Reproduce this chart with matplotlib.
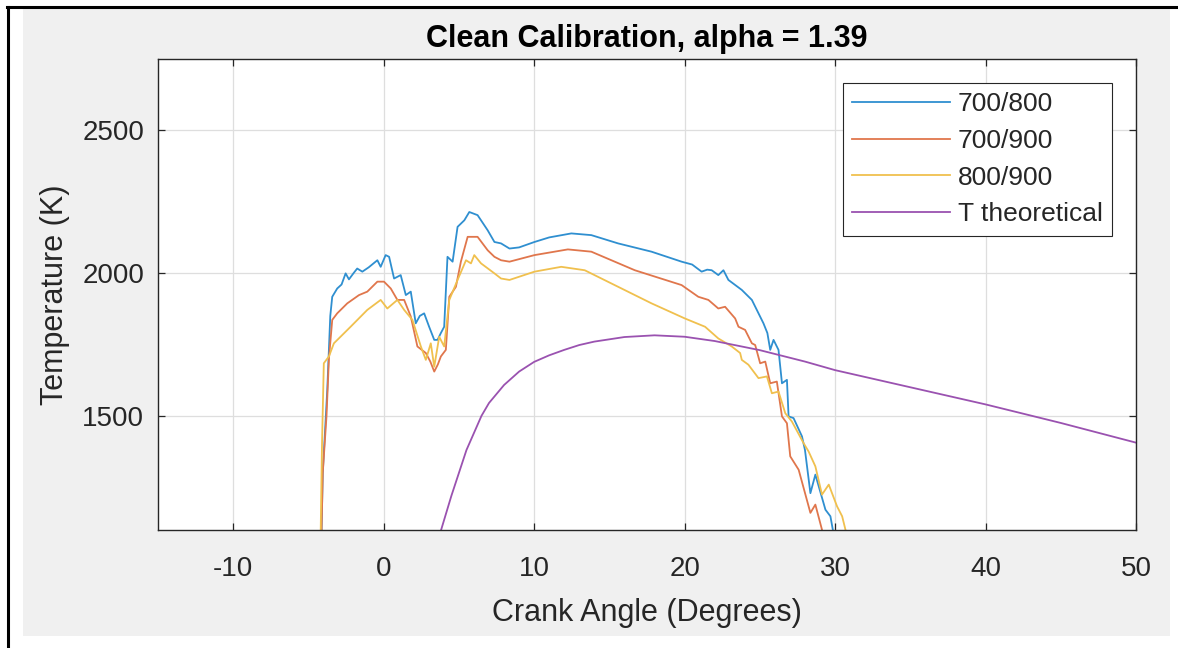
import numpy as np
import matplotlib
matplotlib.use('Agg')
import matplotlib.pyplot as plt
from matplotlib.patches import Rectangle
from matplotlib.lines import Line2D

plt.rcParams['font.family'] = ['Liberation Sans', 'DejaVu Sans']
plt.rcParams['axes.unicode_minus'] = False

# Readings taken off the calibration plot (crank angle in degrees, temperature in K)
angle_700_800 = [-4.15, -4.05, -3.75, -3.55, -3.42, -3.09, -2.8, -2.53, -2.31, -2.0, -1.76, -1.42, -1.0,
                 -0.42, -0.2, 0.13, 0.36, 0.69, 1.13, 1.47, 1.8, 2.13, 2.4, 2.69, 3.02, 3.36, 3.58, 3.8,
                 4.02, 4.24, 4.58, 4.91, 5.36, 5.69, 6.24, 6.91, 7.36, 7.8, 8.36, 9.0, 10.02, 11.0, 12.47,
                 13.8, 15.58, 17.8, 19.8, 20.5, 21.13, 21.5, 21.8, 22.24, 22.58, 22.91, 23.8, 24.47, 25.24,
                 25.5, 25.69, 25.91, 26.24, 26.47, 26.8, 26.91, 27.24, 27.8, 28.0, 28.36, 28.69, 29.36,
                 29.69, 29.85, 29.95]
temp_700_800 = [1050, 1300, 1591, 1850, 1917, 1946, 1960, 1999, 1978, 2000, 2016, 2005, 2020,
                2045, 2022, 2063, 2057, 1981, 1993, 1923, 1935, 1824, 1850, 1859, 1812, 1766, 1766, 1790,
                1812, 2057, 2040, 2162, 2185, 2214, 2203, 2150, 2109, 2104, 2086, 2090, 2109, 2125, 2139,
                2133, 2104, 2075, 2040, 2030, 2005, 2012, 2010, 1993, 2010, 1976, 1941, 1906, 1824,
                1790, 1731, 1766, 1731, 1614, 1626, 1498, 1492, 1428, 1380, 1229, 1294, 1171,
                1148, 1101, 1050]

angle_700_900 = [-4.15, -4.05, -3.8, -3.64, -3.42, -3.09, -2.42, -1.64, -1.09, -0.42, 0.02, 0.47, 0.91,
                 1.36, 1.8, 2.24, 2.8, 3.1, 3.36, 3.6, 3.8, 4.13, 4.36, 4.8, 5.13, 5.58, 6.24, 6.91, 7.36,
                 7.8, 8.36, 10.02, 12.24, 13.8, 16.69, 19.8, 20.91, 21.58, 22.24, 22.69, 23.36, 23.58,
                 24.02, 24.47, 24.69, 25.02, 25.36, 25.69, 26.13, 26.47, 26.8, 27.02, 27.58, 28.36, 28.69,
                 29.13, 29.25]
temp_700_900 = [1050, 1300, 1500, 1700, 1836, 1859, 1894, 1923, 1935, 1970, 1970, 1946, 1906,
                1906, 1848, 1743, 1720, 1690, 1655, 1680, 1708, 1731, 1917, 1952, 2040, 2127, 2127, 2080, 2057,
                2045, 2040, 2063, 2083, 2075, 2010, 1958, 1917, 1906, 1876, 1882, 1841, 1812,
                1801, 1754, 1748, 1684, 1690, 1614, 1620, 1498, 1474, 1358, 1311, 1160, 1189,
                1101, 1050]

angle_800_900 = [-4.2, -4.1, -3.98, -3.64, -3.31, -2.2, -1.09, -0.2, 0.24, 0.91, 1.36, 1.91, 2.47, 2.8,
                 3.13, 3.36, 3.69, 4.02, 4.36, 4.91, 5.47, 5.8, 6.02, 6.47, 7.36, 7.8, 8.36, 10.02, 11.8,
                 13.36, 15.58, 17.8, 20.02, 21.36, 22.24, 23.13, 23.69, 23.8, 24.24, 24.91, 25.47, 25.8,
                 26.24, 26.69, 27.13, 27.91, 28.24, 28.69, 29.13, 29.58, 30.13, 30.47, 30.69, 30.8]
temp_800_900 = [1050, 1400, 1684, 1708, 1754, 1812, 1871, 1906, 1876, 1906, 1871, 1836, 1743, 1696,
                1754, 1672, 1777, 1743, 1906, 1976, 2045, 2034, 2063, 2034, 1999, 1981, 1976, 2005, 2022,
                2010, 1952, 1894, 1841, 1812, 1771, 1743, 1720, 1696, 1679, 1632, 1638, 1579,
                1585, 1509, 1480, 1404, 1375, 1323, 1224, 1259, 1183, 1148, 1101, 1050]

angle_theory = [3.7, 4.5, 5, 5.5, 6, 6.5, 7, 8, 9, 10, 11, 12, 13, 14, 16, 18, 20, 22, 25, 28, 30,
                33, 35, 40, 45, 50]
temp_theory = [1080, 1220, 1300, 1380, 1440, 1500, 1545, 1608, 1655, 1689, 1712, 1731, 1748, 1760,
               1776, 1782, 1777, 1762, 1730, 1690, 1660, 1624, 1600, 1540, 1475, 1406]

series_labels = ['700/800', '700/900', '800/900', 'T theoretical']
series_colors = ['#2f8fd0', '#e0764c', '#f0c04e', '#9a52b0']

x_ticks = [-10, 0, 10, 20, 30, 40, 50]
y_ticks = [1500, 2000, 2500]

fig = plt.figure(figsize=(11.78, 6.48), dpi=100, facecolor='white')

# grey figure panel and the black frame lines of the screenshot
fig.patches.append(Rectangle((23 / 1178, 1 - 636 / 648), (1170 - 23) / 1178, (636 - 9) / 648,
                             transform=fig.transFigure, facecolor='#f0f0f0', edgecolor='none', zorder=-2))
fig.lines.append(Line2D([7 / 1178, 1.0], [1 - 6.5 / 648, 1 - 6.5 / 648], transform=fig.transFigure,
                        color='black', lw=2.2))
fig.lines.append(Line2D([7.5 / 1178, 7.5 / 1178], [0.0, 1 - 6.5 / 648], transform=fig.transFigure,
                        color='black', lw=2.2))

ax = fig.add_axes([158 / 1178, 1 - 530 / 648, (1136 - 158) / 1178, (530 - 59) / 648])
ax.set_facecolor('white')

all_x = [angle_700_800, angle_700_900, angle_800_900, angle_theory]
all_y = [temp_700_800, temp_700_900, temp_800_900, temp_theory]
for xs, ys, lab, col in zip(all_x, all_y, series_labels, series_colors):
    ax.plot(xs, ys, color=col, lw=1.3, label=lab)

ax.set_xlim(-15, 50)
ax.set_ylim(1100, 2750)
ax.set_xticks(x_ticks)
ax.set_yticks(y_ticks)
ax.grid(True, color='#dedede', lw=0.9)
ax.set_axisbelow(True)

for sp in ax.spines.values():
    sp.set_color('#262626')
    sp.set_linewidth(1.0)
ax.tick_params(axis='both', direction='in', length=5, width=0.9, color='#262626',
               labelcolor='#262626', labelsize=20, top=True, right=True)
ax.tick_params(axis='x', pad=19)
ax.tick_params(axis='y', pad=10)

ax.set_xlabel('Crank Angle (Degrees)', fontsize=22, color='#262626', labelpad=11)
ax.set_ylabel('Temperature (K)', fontsize=22, color='#262626', labelpad=9)
ax.set_title('Clean Calibration, alpha = 1.39', fontsize=22, fontweight='bold', color='black', pad=9)

leg = ax.legend(loc='upper right', fontsize=19, frameon=True, fancybox=False, framealpha=1,
                borderaxespad=0.9, borderpad=0.36, labelspacing=0.48, handlelength=3.7,
                handletextpad=0.3)
leg.get_frame().set_edgecolor('#262626')
leg.get_frame().set_linewidth(0.8)
for t in leg.get_texts():
    t.set_color('#262626')

plt.savefig('out.png', dpi=100, facecolor='white')
plt.close()
